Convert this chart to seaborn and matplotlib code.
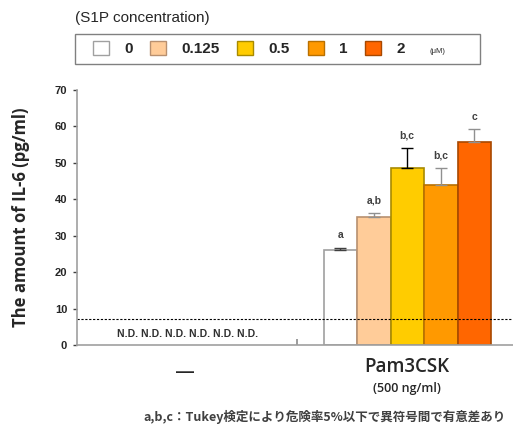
import numpy as np
import pandas as pd
import matplotlib
matplotlib.use("Agg")
import matplotlib.pyplot as plt
import seaborn as sns
from matplotlib.patches import Patch, Rectangle

sns.set_theme(style="white")
plt.rcParams['font.family'] = ['Liberation Sans', 'Noto Sans CJK JP', 'DejaVu Sans']

groups = ["—", "Pam3CSK"]
concentrations = ["0", "0.125", "0.5", "1", "2"]
means_ctrl = [np.nan, np.nan, np.nan, np.nan, np.nan]
means_pam = [26.1, 35.2, 48.5, 43.9, 55.8]
errs_pam = [0.6, 1.1, 5.7, 4.7, 3.5]
letters = ["a", "a,b", "b,c", "b,c", "c"]
colors = ["#FFFFFF", "#FFCC99", "#FFCC00", "#FF9900", "#FF6600"]
edges = ["#A0A0A0", "#B89070", "#A88A00", "#B87000", "#A84800"]
err_colors = ["#404040", "#909090", "#000000", "#909090", "#909090"]
detection_limit = 7

df = pd.DataFrame({
    "group": [groups[0]] * 5 + [groups[1]] * 5,
    "conc": concentrations * 2,
    "value": means_ctrl + means_pam,
})

fig = plt.figure(figsize=(5.13, 4.29), dpi=100)
ax = fig.add_axes([0.150, 0.196, 0.85, 0.594])

sns.barplot(data=df, x="group", y="value", hue="conc", order=groups,
            hue_order=concentrations, palette=colors, width=0.76,
            saturation=1, ax=ax, legend=False, errorbar=None)

bars = [p for p in ax.patches if np.isfinite(p.get_height()) and p.get_height() > 0]
bars.sort(key=lambda p: p.get_x())
for i, p in enumerate(bars):
    p.set_edgecolor(edges[i])
    p.set_linewidth(1.2)
    cx = p.get_x() + p.get_width() / 2
    h = p.get_height()
    ax.errorbar([cx], [h], yerr=[[0], [errs_pam[i]]], fmt="none",
                ecolor=err_colors[i], elinewidth=1, capsize=4, capthick=1)
    ax.text(cx, h + errs_pam[i] + 2.0, letters[i], ha="center", va="bottom",
            fontsize=7.5, fontweight="bold", color="#404040")

ax.text(0, 1.5, "N.D. N.D. N.D. N.D. N.D. N.D.", ha="center", va="bottom",
        fontsize=7.5, fontweight="bold", color="#303030")

ax.axhline(detection_limit, color="black", linestyle=(0, (2, 1.5)), linewidth=0.8)

ax.set_xlim(-0.5, 1.48)
ax.set_ylim(0, 70)
ax.set_yticks(range(0, 71, 10))
ax.tick_params(axis="y", length=3, width=1, color="#404040", direction="out",
               left=True, labelsize=8, pad=4)
for t in ax.get_yticklabels():
    t.set_fontweight("bold")
ax.set_xticks([0.5])
ax.set_xticklabels([""])
ax.tick_params(axis="x", length=4, direction="in", color="#909090", bottom=True)

ax.set_xlabel("")
ax.set_ylabel("The amount of IL-6 (pg/ml)", fontsize=12, fontfamily="Open Sans",
              fontweight="bold", labelpad=18)
for s in ["top", "right"]:
    ax.spines[s].set_visible(False)
for s in ["left", "bottom"]:
    ax.spines[s].set_color("#A0A0A0")
    ax.spines[s].set_linewidth(1.2)

# group labels
ax.text(-0.01, -5.3, "—", ha="center", va="top", fontsize=13, fontweight="bold")
ax.text(1, -3.3, "Pam3CSK", ha="center", va="top", fontsize=13.5,
        fontfamily="Open Sans", fontweight="semibold")
ax.text(1, -10.3, "(500 ng/ml)", ha="center", va="top", fontsize=9,
        fontfamily="Open Sans", fontweight="semibold")

# legend
fig.text(0.146, 0.958, "(S1P concentration)", fontsize=11, ha="left", va="center")
fig.add_artist(Rectangle((0.146, 0.851), 0.79, 0.07, transform=fig.transFigure,
                         facecolor="none", edgecolor="#808080", linewidth=1))
handles = [Patch(facecolor=c, edgecolor=e, linewidth=1) for c, e in zip(colors, edges)]
handles[0].set_edgecolor("#A0A0A0")
leg = fig.legend(handles, concentrations, ncol=5, loc="center left",
                 bbox_to_anchor=(0.181, 0.886), frameon=False,
                 handlelength=1.05, handleheight=0.95, borderpad=0,
                 borderaxespad=0, handletextpad=1.0, columnspacing=1.15,
                 prop={"weight": "bold", "size": 11})
fig.text(0.838, 0.879, "(μM)", fontsize=5.5, ha="left", va="center")

fig.text(0.985, 0.028, "a,b,c：Tukey検定により危険率5%以下で異符号間で有意差あり",
         ha="right", va="center", fontsize=9, color="#404040", fontweight="bold",
         family=["Noto Sans CJK JP", "DejaVu Sans"])

fig.savefig("out.png", dpi=100)
